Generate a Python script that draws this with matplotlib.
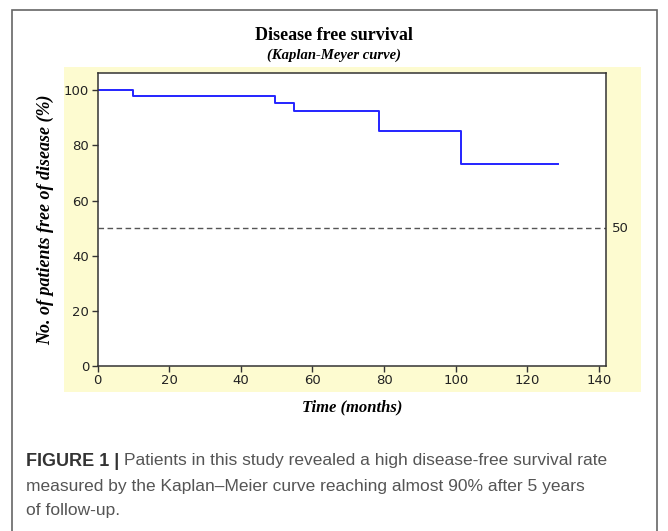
import matplotlib.pyplot as plt
from matplotlib.patches import Rectangle

# Kaplan-Meier steps
times = [0, 10, 49.4, 54.9, 78.6, 101.4, 128.7]
survival = [100, 98.0, 95.3, 92.5, 85.4, 73.2, 73.2]
median_line = 50
x_ticks = [0, 20, 40, 60, 80, 100, 120, 140]
y_ticks = [0, 20, 40, 60, 80, 100]

fig = plt.figure(figsize=(6.68, 5.31), dpi=100)

# outer frame and yellow panel behind the plot
fig.patches.append(Rectangle((12 / 668, -0.05), 645 / 668, 1 - 10 / 531 + 0.05,
                             transform=fig.transFigure, fill=False,
                             edgecolor="#666666", linewidth=1.2))
fig.patches.append(Rectangle((64 / 668, 1 - 392 / 531), 577 / 668, 325 / 531,
                             transform=fig.transFigure, facecolor="#fdfbd0",
                             edgecolor="none", zorder=0))

ax = fig.add_axes([97.6 / 668, 1 - 366 / 531, 508.5 / 668, 293 / 531])
ax.set_zorder(2)
ax.set_facecolor("white")

ax.step(times, survival, where="post", color="#2424ff", linewidth=1.4)
ax.axhline(median_line, color="#555555", linestyle=(0, (4, 2.5)), linewidth=1.0)
ax.text(1.012, median_line, "50", transform=ax.get_yaxis_transform(),
        va="center", ha="left", fontsize=9.5, color="#222222")

ax.set_xlim(0, 142)
ax.set_ylim(0, 106.3)
ax.set_xticks(x_ticks)
ax.set_yticks(y_ticks)
ax.tick_params(direction="out", length=4, width=1, labelsize=9.5,
               colors="#333333", labelcolor="#222222", pad=2)
for s in ax.spines.values():
    s.set_color("#333333")
    s.set_linewidth(1.1)

serif = "Liberation Serif"
ax.set_xlabel("Time (months)", fontfamily=serif, fontweight="bold",
              fontstyle="italic", fontsize=12, labelpad=9)
ax.set_ylabel("No. of patients free of disease (%)", fontfamily=serif,
              fontweight="bold", fontstyle="italic", fontsize=13, labelpad=7)

fig.text(0.5, 1 - 36 / 531, "Disease free survival", ha="center", va="center",
         fontfamily=serif, fontweight="bold", fontsize=13)
fig.text(0.5, 1 - 55 / 531, "(Kaplan-Meyer curve)", ha="center", va="center",
         fontfamily=serif, fontweight="bold", fontstyle="italic", fontsize=10.5)

# caption under the chart
cap_x = 26 / 668
cap = fig.text(cap_x, 1 - 461 / 531, "FIGURE 1 |", ha="left", va="center",
               fontfamily="Liberation Sans", fontweight="bold", fontsize=13,
               color="#333333")
fig.canvas.draw()
bb = cap.get_window_extent()
fig.text(bb.x1 / 668 + 0.007, 1 - 461 / 531,
         "Patients in this study revealed a high disease-free survival rate",
         ha="left", va="center", fontfamily="Liberation Sans", fontsize=12.5,
         color="#555555")
fig.text(cap_x, 1 - 486 / 531,
         "measured by the Kaplan\u2013Meier curve reaching almost 90% after 5 years",
         ha="left", va="center", fontfamily="Liberation Sans", fontsize=12.5,
         color="#555555")
fig.text(cap_x, 1 - 511 / 531, "of follow-up.", ha="left", va="center",
         fontfamily="Liberation Sans", fontsize=12.5, color="#555555")

fig.savefig("out.png", dpi=100)
